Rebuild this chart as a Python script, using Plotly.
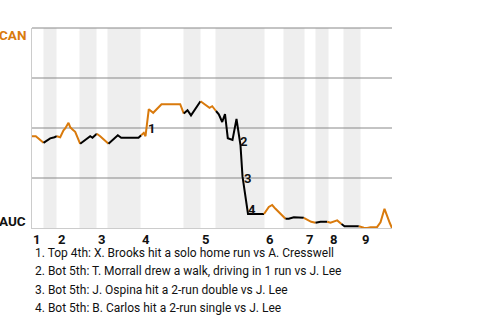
import plotly.graph_objects as go

# ---- data ----
PLAY_X = [0, 3.8, 6.5, 11.5, 14.8, 18.2, 22.5, 24.8, 28.2, 31.5, 33.2, 36.5, 38.2, 40.5, 43.2, 48.2,
          51.5, 55.8, 58.2, 60.5, 64.8, 68.2, 76.5, 81.5, 85.8, 89.2, 106.5, 109.2,
          111.8, 113.5, 116.8, 121.2, 129.5, 148.2, 151.8, 155.5, 159, 163.5, 168.5,
          173, 177.5, 180.2, 184, 186.8, 190.2, 193, 195.8, 200.5, 204.5, 206, 208.5, 210.5,
          216, 224, 232, 236.8, 240.2, 243.5, 253.5, 256.8, 261.8, 266.8, 271.8,
          275.2, 279.2, 283.5, 288.5, 295.2, 298.5, 305.2, 309.5, 312.5, 326.8,
          331.8, 335.2, 338.5, 345, 348.5, 352.5, 355.2, 357.8, 360]
PLAY_WP = [45.9, 45.9, 44.8, 42.6, 43.8, 44.8, 45.4, 45.9, 45.4, 48.8, 49.8, 52.6, 50.4, 49.3, 48.1, 42.1,
           43.4, 45.1, 45.9, 45.1, 47.1, 45.9, 42.1, 44.3, 46.4, 45.1, 45.1, 46.4,
           47.6, 45.9, 59.4, 57.6, 61.9, 61.9, 57.2, 58.9, 56.3, 59.6, 63.4,
           61.8, 60.1, 60.9, 58.5, 56.8, 53.0, 57.0, 44.9, 44.0, 54.5, 48.8, 41.3, 25.8,
           7.0, 7.0, 7.0, 10.5, 11.5, 9.6, 4.6, 4.6, 5.4, 5.1, 5.1,
           4.3, 3.1, 2.6, 3.1, 3.1, 2.6, 3.8, 2.0, 0.9, 0.9,
           0.1, 0.0, 0.4, 0.4, 2.8, 9.6, 5.5, 2.5, 0.0]
PLAYS_PER_HALF = [4, 4, 8, 5, 2, 5, 7, 4, 4, 12, 4, 4, 3, 2, 3, 2, 9]
HALF_BOUNDS = [0, 11.5, 24.5, 47.5, 64.5, 75.5, 108.5, 151.5, 168.5, 183.5,
               232.5, 251.5, 272.5, 283.5, 296.5, 311.5, 328.5, 360]
INNINGS = ["1", "2", "3", "4", "5", "6", "7", "8", "9"]
TEAMS = ["CAN", "AUC"]
GRID_WP = [25, 50, 75, 100]
EVENT_NUM = ["1", "2", "3", "4"]
EVENT_X = [119, 211.8, 215.5, 220]
EVENT_Y = [50, 43.4, 24.75, 9.25]
NOTES = [
    "1. Top 4th: X. Brooks hit a solo home run vs A. Cresswell",
    "2. Bot 5th: T. Morrall drew a walk, driving in 1 run vs J. Lee",
    "3. Bot 5th: J. Ospina hit a 2-run double vs J. Lee",
    "4. Bot 5th: B. Carlos hit a 2-run single vs J. Lee",
]

ORANGE = "#d97a0c"
BLACK = "#000000"
FONT = "Roboto"

fig = go.Figure()

# line segments per half-inning (top = away/orange, bottom = home/black)
start = 0
for h, n in enumerate(PLAYS_PER_HALF):
    end = start + n
    i0 = max(start - 1, 0)
    fig.add_trace(go.Scatter(
        x=PLAY_X[i0:end], y=PLAY_WP[i0:end], mode="lines",
        line=dict(color=ORANGE if h % 2 == 0 else BLACK, width=2),
        hoverinfo="skip", showlegend=False))
    start = end

# shaded bottom halves
shapes = []
for k in range(1, len(HALF_BOUNDS) - 1, 2):
    shapes.append(dict(type="rect", xref="x", yref="paper",
                       x0=HALF_BOUNDS[k], x1=HALF_BOUNDS[k + 1], y0=0, y1=1,
                       fillcolor="#eeeeee", line=dict(width=0), layer="below"))
# horizontal gridlines (drawn over the bands)
for g in GRID_WP:
    shapes.append(dict(type="line", xref="paper", yref="paper", x0=0, x1=1,
                       y0=g / 100, y1=g / 100,
                       line=dict(color="#888888", width=1), layer="below"))

annotations = []
# inning labels
for i, lab in enumerate(INNINGS):
    annotations.append(dict(x=HALF_BOUNDS[2 * i], y=-0.055, xref="x", yref="paper",
                            text=lab, showarrow=False, xanchor="left", yanchor="middle",
                            xshift=-1,
                            font=dict(family=FONT, size=13, color="#111111", weight="bold")))
# team labels
annotations.append(dict(x=-0.0105, y=0.965, xref="paper", yref="paper", text=TEAMS[0],
                        showarrow=False, xanchor="right", yanchor="middle",
                        font=dict(family=FONT, size=13.5, color=ORANGE, weight="bold")))
annotations.append(dict(x=-0.0105, y=0.035, xref="paper", yref="paper", text=TEAMS[1],
                        showarrow=False, xanchor="right", yanchor="middle",
                        font=dict(family=FONT, size=13.5, color="#111111", weight="bold")))
# event markers
for lab, ex, ey in zip(EVENT_NUM, EVENT_X, EVENT_Y):
    annotations.append(dict(x=ex, y=ey, xref="x", yref="y", text=lab, showarrow=False,
                            xanchor="center", yanchor="middle",
                            font=dict(family=FONT, size=13, color="#111111", weight="bold")))
# notes
for i, note in enumerate(NOTES):
    py = 253 + i * 18.3
    annotations.append(dict(x=0.003, y=(228 - py) / 200, xref="paper", yref="paper",
                            text=note, showarrow=False, xanchor="left", yanchor="middle",
                            font=dict(family=FONT, size=12, color="#111111")))

fig.update_layout(
    width=480, height=320,
    margin=dict(l=32, r=88, t=28, b=92),
    paper_bgcolor="white", plot_bgcolor="white",
    shapes=shapes, annotations=annotations,
    xaxis=dict(range=[0, 360], showgrid=False, zeroline=False, showticklabels=False,
               ticks="", showline=True, linecolor="#cccccc", linewidth=1, fixedrange=True),
    yaxis=dict(range=[0, 100], showgrid=False, zeroline=False, showticklabels=False,
               ticks="", showline=True, linecolor="#cccccc", linewidth=1, fixedrange=True),
    font=dict(family=FONT),
)

fig.write_html("out.html", config={"displayModeBar": False})
